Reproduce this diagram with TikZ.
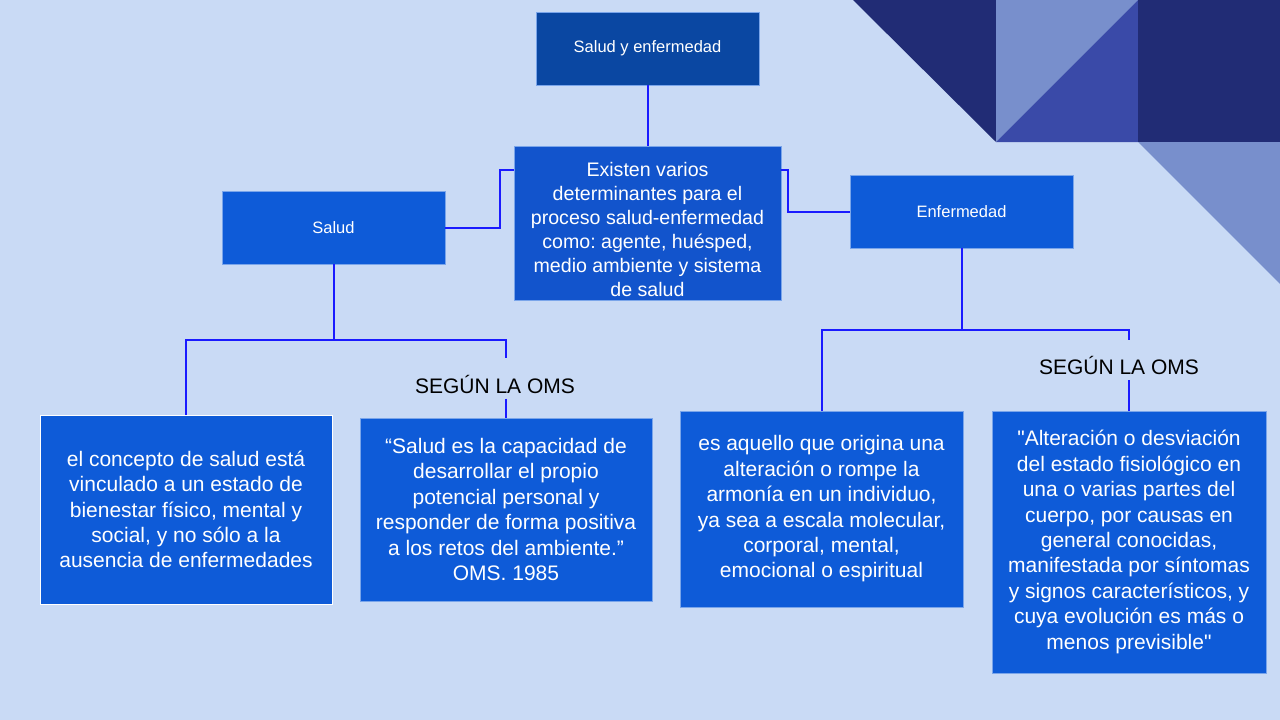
\documentclass[tikz,border=0pt]{standalone}
\usepackage{fontspec}
\setmainfont{Liberation Sans}
\newfontfamily\rectas{Liberation Sans}[Ligatures=TeXOff]
\usepackage{xcolor}
\usetikzlibrary{positioning}
\definecolor{fondo}{HTML}{C9DAF5}
\definecolor{oscuro}{HTML}{212C75}
\definecolor{claro}{HTML}{788FCC}
\definecolor{medio}{HTML}{3A4AA8}
\definecolor{caja}{HTML}{0E5BD8}
\definecolor{cajac}{HTML}{1254CC}
\definecolor{cajatop}{HTML}{0A47A2}
\definecolor{linea}{HTML}{1A1AFF}
\frenchspacing

\begin{document}
\begin{tikzpicture}[x=1pt, y=-1pt,
		caja/.style={fill=caja, draw=caja!55!white, line width=0.8pt, text=white, align=center, inner sep=0pt},
		titulo/.style={caja, font=\fontsize{16.5}{20}\selectfont},
		texto/.style={caja, font=\fontsize{21}{25.4}\selectfont},
		oms/.style={font=\fontsize{21}{25}\selectfont, text=black, inner sep=0pt, text height=35pt, text depth=5pt, anchor=base},
		conn/.style={draw=linea, line width=2pt}]
		%Hintergrund
		\useasboundingbox (0,0) rectangle (1280,720);
		\fill[fondo] (0,0) rectangle (1280,720);
		% Dreiecke oben rechts
		\fill[oscuro] (853,0) -- (996,0) -- (996,142) -- cycle;
		\fill[claro] (996,0) -- (1138,0) -- (996,142) -- cycle;
		\fill[medio] (1138,0) -- (1138,142) -- (996,142) -- cycle;
		\fill[oscuro] (1138,0) rectangle (1280,142);
		\fill[claro] (1138,142) -- (1280,142) -- (1280,284) -- cycle;
		% Kaesten
		\node[titulo, fill=cajatop, minimum width=223pt, minimum height=73pt] (tema) at (647.5,48.5) {Salud y enfermedad};
		\node[caja, fill=cajac, minimum width=267pt, minimum height=154pt, font=\fontsize{19.6}{24}\selectfont] (centro) at (647.5,223)
			{\raisebox{-12pt}[0pt][0pt]{\parbox{267pt}{\centering Existen varios\\ determinantes para el\\ proceso salud-enfermedad\\ como: agente, huésped,\\ medio ambiente y sistema\\ de salud}}};
		\node[titulo, minimum width=223pt, minimum height=73pt] (salud) at (333.5,227.5) {Salud};
		\node[titulo, minimum width=223pt, minimum height=73pt] (enfermedad) at (961.5,211.5) {Enfermedad};
		\node[texto, draw=white, minimum width=292pt, minimum height=189pt] (concepto) at (186,509.5)
			{el concepto de salud está\\ vinculado a un estado de\\ bienestar físico, mental y\\ social, y no sólo a la\\ ausencia de enfermedades};
		\node[texto, minimum width=292pt, minimum height=183pt] (capacidad) at (506,509.5)
			{“Salud es la capacidad de\\ desarrollar el propio\\ potencial personal y\\ responder de forma positiva\\ a los retos del ambiente.”\\ OMS. 1985};
		\node[texto, font=\rectas\fontsize{21}{25.4}\selectfont, minimum width=274pt, minimum height=262pt] (desviacion) at (1129,542)
			{"Alteración o desviación\\ del estado fisiológico en\\ una o varias partes del\\ cuerpo, por causas en\\ general conocidas,\\ manifestada por síntomas\\ y signos característicos, y\\ cuya evolución es más o\\ menos previsible"};
		\node[texto, minimum width=283pt, minimum height=196pt] (alteracion) at (821.5,509)
			{es aquello que origina una\\ alteración o rompe la\\ armonía en un individuo,\\ ya sea a escala molecular,\\ corporal, mental,\\ emocional o espiritual};
		% Beschriftungen
		\node[oms] (oms1) at (495,393.5) {SEGÚN LA OMS};
		\node[oms, text height=34pt, text depth=6pt] (oms2) at (1119,374) {SEGÚN LA OMS};
		% Verbindungen
		\draw[conn] (tema.south) -- (centro.north);
		\draw[conn] ([yshift=-24pt]centro.north west) -- ++(-14,0) |- (salud.east);
		\draw[conn] ([yshift=-24pt]centro.north east) -- ++(7,0) |- (enfermedad.west);
		\draw[conn] (salud.south) -- ++(0,76) coordinate (sj);
		\draw[conn] (sj) -| (concepto.north);
		\draw[conn] (sj) -| (oms1.north -| capacidad.north);
		\draw[conn] (oms1.south -| capacidad.north) -- (capacidad.north);
		\draw[conn] (enfermedad.south) -- ++(0,82) coordinate (ej);
		\draw[conn] (ej) -| (alteracion.north);
		\draw[conn] (ej) -| (oms2.north -| desviacion.north);
		\draw[conn] (oms2.south -| desviacion.north) -- (desviacion.north);
	\end{tikzpicture}
\end{document}
